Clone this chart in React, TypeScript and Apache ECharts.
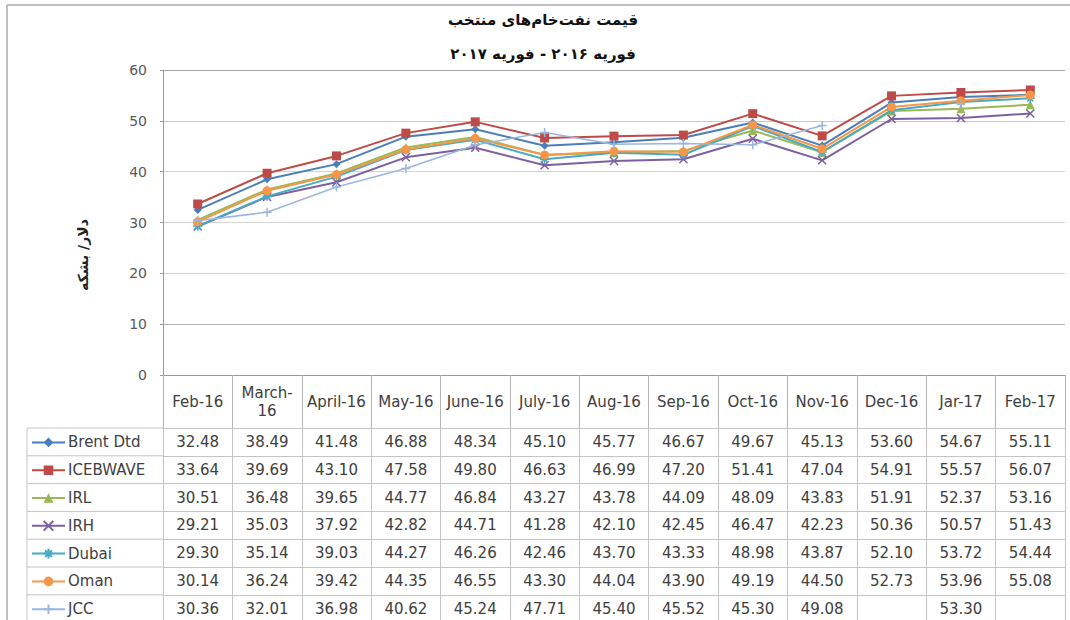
import React, { useEffect, useRef } from "react";
import * as echarts from "echarts";

const categories = ["Feb-16", "March-16", "April-16", "May-16", "June-16", "July-16", "Aug-16", "Sep-16", "Oct-16", "Nov-16", "Dec-16", "Jar-17", "Feb-17"];

const brentDtd = [32.48, 38.49, 41.48, 46.88, 48.34, 45.10, 45.77, 46.67, 49.67, 45.13, 53.60, 54.67, 55.11];
const icebwave = [33.64, 39.69, 43.10, 47.58, 49.80, 46.63, 46.99, 47.20, 51.41, 47.04, 54.91, 55.57, 56.07];
const irl = [30.51, 36.48, 39.65, 44.77, 46.84, 43.27, 43.78, 44.09, 48.09, 43.83, 51.91, 52.37, 53.16];
const irh = [29.21, 35.03, 37.92, 42.82, 44.71, 41.28, 42.10, 42.45, 46.47, 42.23, 50.36, 50.57, 51.43];
const dubai = [29.30, 35.14, 39.03, 44.27, 46.26, 42.46, 43.70, 43.33, 48.98, 43.87, 52.10, 53.72, 54.44];
const oman = [30.14, 36.24, 39.42, 44.35, 46.55, 43.30, 44.04, 43.90, 49.19, 44.50, 52.73, 53.96, 55.08];
const jcc: (number | null)[] = [30.36, 32.01, 36.98, 40.62, 45.24, 47.71, 45.40, 45.52, 45.30, 49.08, null, 53.30, null];

const seriesNames = ["Brent Dtd", "ICEBWAVE", "IRL", "IRH", "Dubai", "Oman", "JCC"];
const seriesValues = [brentDtd, icebwave, irl, irh, dubai, oman, jcc];

const yTicks = [0, 10, 20, 30, 40, 50, 60];

const titleLine1 = "قیمت نفت‌خام‌های منتخب";
const titleLine2 = "فوریه ۲۰۱۶ - فوریه ۲۰۱۷";
const yAxisName = "دلار/ بشکه";

// styles
const colors = ["#4A7EBB", "#BE4B48", "#98B954", "#7D60A0", "#46AAC5", "#F79646", "#9DB6DE"];
const X_PATH = "path://M0,0L10,10M10,0L0,10";
const STAR_PATH = "path://M5,0L5,10M0,5L10,5M1.5,1.5L8.5,8.5M8.5,1.5L1.5,8.5";
const PLUS_PATH = "path://M5,0L5,10M0,5L10,5";
const symbols = ["diamond", "rect", "triangle", X_PATH, STAR_PATH, "circle", PLUS_PATH];
const symbolSizes = [8, 9, 9, 8, 9, 9, 9];
const strokeSymbols = [false, false, false, true, true, false, true];

const FONT = "DejaVu Sans";
const GRID_LEFT = 163;
const GRID_RIGHT_X = 1065;
const GRID_TOP = 70;
const GRID_BOTTOM_Y = 375;
const HEADER_H = 53;
const ROW_H = 27.8;
const TABLE_LEFT = 27;
const W = 1070;
const H = 620;

const fmt = (v: number | null | undefined) => (v == null ? "" : v.toFixed(2));

export default function App() {
  const ref = useRef<HTMLDivElement>(null);

  useEffect(() => {
    document.body.style.margin = "0";
    if (!ref.current) return;
    const chart = echarts.init(ref.current, null, { renderer: "svg" });

    const headerAxis = {
      type: "category",
      gridIndex: 0,
      position: "bottom",
      data: categories,
      boundaryGap: true,
      axisLine: { show: true, lineStyle: { color: "#999", width: 1 } },
      axisTick: { show: true, length: HEADER_H, lineStyle: { color: "#b5b5b5" } },
      axisLabel: {
        interval: 0,
        margin: HEADER_H / 2,
        verticalAlign: "middle",
        fontFamily: FONT,
        fontSize: 15,
        lineHeight: 18,
        color: "#404040",
        formatter: (v: string) => (v === "March-16" ? "March-\n16" : v),
      },
      splitLine: { show: false },
    };

    const rowAxes = seriesValues.map((vals, k) => ({
      type: "category",
      gridIndex: 0,
      position: "bottom",
      offset: HEADER_H + k * ROW_H,
      data: categories,
      boundaryGap: true,
      axisLine: { show: true, lineStyle: { color: "#c4c4c4", width: 1 } },
      axisTick: { show: true, length: ROW_H, lineStyle: { color: "#c4c4c4" } },
      axisLabel: {
        interval: 0,
        margin: ROW_H / 2,
        verticalAlign: "middle",
        fontFamily: FONT,
        fontSize: 15,
        color: "#404040",
        formatter: (_v: string, i: number) => fmt(vals[i]),
      },
      splitLine: { show: false },
    }));

    const series = seriesNames.map((name, k) => ({
      name,
      type: "line",
      xAxisIndex: 0,
      yAxisIndex: 0,
      data: seriesValues[k],
      connectNulls: false,
      symbol: symbols[k],
      symbolSize: symbolSizes[k],
      showAllSymbol: true,
      lineStyle: { color: colors[k], width: k === 6 ? 1.5 : 2 },
      itemStyle: strokeSymbols[k]
        ? { color: colors[k], borderColor: colors[k], borderWidth: 1.5 }
        : { color: colors[k], borderWidth: 0 },
      emphasis: { disabled: true },
    }));

    const legends = seriesNames.map((name, k) => ({
      data: [name],
      orient: "horizontal",
      left: 31,
      top: GRID_BOTTOM_Y + HEADER_H + k * ROW_H + ROW_H / 2 - 7,
      padding: 0,
      itemWidth: 33,
      itemHeight: 12,
      selectedMode: false,
      textStyle: { fontFamily: FONT, fontSize: 15, color: "#404040", padding: [0, 0, 0, -2] },
    }));

    const legendLines: any[] = [];
    for (let k = 0; k <= seriesNames.length; k++) {
      const y = GRID_BOTTOM_Y + HEADER_H + k * ROW_H;
      legendLines.push({
        type: "line",
        shape: { x1: TABLE_LEFT, y1: y, x2: GRID_LEFT, y2: y },
        style: { stroke: "#c4c4c4", lineWidth: 1 },
        silent: true,
      });
    }

    chart.setOption({
      animation: false,
      backgroundColor: "#ffffff",
      grid: {
        left: GRID_LEFT,
        right: W - GRID_RIGHT_X,
        top: GRID_TOP,
        bottom: H - GRID_BOTTOM_Y,
        containLabel: false,
      },
      legend: legends,
      xAxis: [headerAxis, ...rowAxes],
      yAxis: {
        type: "value",
        min: yTicks[0],
        max: yTicks[yTicks.length - 1],
        interval: 10,
        axisLine: { show: true, lineStyle: { color: "#999" } },
        axisTick: { show: true, length: 3, lineStyle: { color: "#999" } },
        axisLabel: { fontFamily: FONT, fontSize: 14, color: "#595959", margin: 16 },
        splitLine: {
          show: true,
          lineStyle: { color: ["#999", "#b0b0b0", "#d4d4d4", "#d4d4d4", "#d4d4d4", "#c8c8c8", "#a6a6a6"], width: 1 },
        },
      },
      graphic: [
        {
          type: "line",
          shape: { x1: 7, y1: 5, x2: W, y2: 5 },
          style: { stroke: "#aaaaaa", lineWidth: 1.5 },
          silent: true,
        },
        {
          type: "line",
          shape: { x1: 7, y1: 5, x2: 7, y2: H },
          style: { stroke: "#aaaaaa", lineWidth: 1.5 },
          silent: true,
        },
        {
          type: "line",
          shape: { x1: TABLE_LEFT, y1: GRID_BOTTOM_Y + HEADER_H, x2: TABLE_LEFT, y2: H },
          style: { stroke: "#c4c4c4", lineWidth: 1 },
          silent: true,
        },
        ...legendLines,
        {
          type: "text",
          x: 543,
          y: 20,
          style: { text: titleLine1, align: "center", verticalAlign: "middle", font: `bold 15px "${FONT}"`, fill: "#111" },
          silent: true,
        },
        {
          type: "text",
          x: 543,
          y: 54,
          style: { text: titleLine2, align: "center", verticalAlign: "middle", font: `bold 15px "${FONT}"`, fill: "#111" },
          silent: true,
        },
        {
          type: "text",
          x: 83,
          y: 255,
          rotation: Math.PI / 2,
          style: { text: yAxisName, align: "center", verticalAlign: "middle", font: `bold 14px "${FONT}"`, fill: "#222" },
          silent: true,
        },
      ],
      series,
    });

    return () => chart.dispose();
  }, []);

  return <div ref={ref} style={{ width: W, height: H }} />;
}
